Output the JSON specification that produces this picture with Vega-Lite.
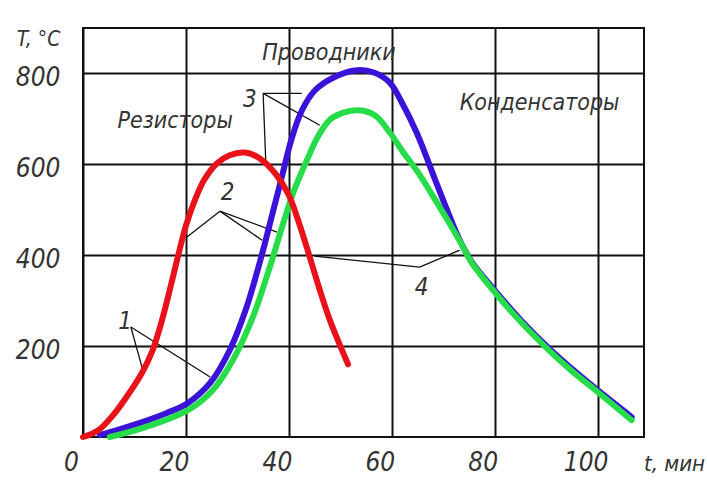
{
  "$schema": "https://vega.github.io/schema/vega-lite/v6.json",
  "width": 561,
  "height": 409,
  "autosize": {"type": "none"},
  "padding": {"left": 83, "top": 28, "right": 63, "bottom": 43},
  "background": "white",
  "config": {
    "view": {"stroke": "#111", "strokeWidth": 2},
    "font": "DejaVu Sans Condensed, Liberation Sans, sans-serif"
  },
  "datasets": {
    "curves": [
      {"series": "red", "t": 0, "T": 0}, {"series": "red", "t": 3, "T": 15}, {"series": "red", "t": 6, "T": 50},
      {"series": "red", "t": 9, "T": 97}, {"series": "red", "t": 11.5, "T": 142}, {"series": "red", "t": 13.5, "T": 190},
      {"series": "red", "t": 15.3, "T": 255}, {"series": "red", "t": 17, "T": 330}, {"series": "red", "t": 18.5, "T": 400},
      {"series": "red", "t": 20, "T": 465}, {"series": "red", "t": 21.7, "T": 520}, {"series": "red", "t": 23.5, "T": 565},
      {"series": "red", "t": 26, "T": 602}, {"series": "red", "t": 28.5, "T": 620}, {"series": "red", "t": 31.5, "T": 626},
      {"series": "red", "t": 34.5, "T": 612}, {"series": "red", "t": 37.5, "T": 578}, {"series": "red", "t": 40, "T": 532},
      {"series": "red", "t": 42, "T": 470}, {"series": "red", "t": 44, "T": 398}, {"series": "red", "t": 46, "T": 324},
      {"series": "red", "t": 48, "T": 256}, {"series": "red", "t": 50, "T": 200}, {"series": "red", "t": 51.5, "T": 160},
      {"series": "blue", "t": 3.3, "T": 4}, {"series": "blue", "t": 9.7, "T": 26}, {"series": "blue", "t": 16.3, "T": 53},
      {"series": "blue", "t": 20.4, "T": 75}, {"series": "blue", "t": 24.7, "T": 119}, {"series": "blue", "t": 28.5, "T": 191},
      {"series": "blue", "t": 31.8, "T": 286}, {"series": "blue", "t": 33.5, "T": 350}, {"series": "blue", "t": 35.2, "T": 420},
      {"series": "blue", "t": 37, "T": 500}, {"series": "blue", "t": 38.8, "T": 580}, {"series": "blue", "t": 40.5, "T": 655},
      {"series": "blue", "t": 42.5, "T": 718}, {"series": "blue", "t": 45, "T": 762}, {"series": "blue", "t": 48.5, "T": 790},
      {"series": "blue", "t": 53.2, "T": 807}, {"series": "blue", "t": 56.5, "T": 802}, {"series": "blue", "t": 59.6, "T": 780},
      {"series": "blue", "t": 62, "T": 735}, {"series": "blue", "t": 64.9, "T": 668}, {"series": "blue", "t": 68.7, "T": 558},
      {"series": "blue", "t": 71, "T": 492}, {"series": "blue", "t": 73.2, "T": 433}, {"series": "blue", "t": 75.5, "T": 386},
      {"series": "blue", "t": 79.6, "T": 328}, {"series": "blue", "t": 85, "T": 258}, {"series": "blue", "t": 90.7, "T": 193},
      {"series": "blue", "t": 95, "T": 150}, {"series": "blue", "t": 100, "T": 103}, {"series": "blue", "t": 106.6, "T": 44},
      {"series": "green", "t": 5.2, "T": 0}, {"series": "green", "t": 11.7, "T": 20}, {"series": "green", "t": 20.4, "T": 59},
      {"series": "green", "t": 25.2, "T": 103}, {"series": "green", "t": 29.1, "T": 169}, {"series": "green", "t": 33, "T": 264},
      {"series": "green", "t": 36.3, "T": 374}, {"series": "green", "t": 38.3, "T": 448}, {"series": "green", "t": 40.8, "T": 536},
      {"series": "green", "t": 43.5, "T": 609}, {"series": "green", "t": 46, "T": 668}, {"series": "green", "t": 48.5, "T": 703},
      {"series": "green", "t": 53.2, "T": 719}, {"series": "green", "t": 56.7, "T": 708}, {"series": "green", "t": 59.6, "T": 670},
      {"series": "green", "t": 62, "T": 630}, {"series": "green", "t": 65, "T": 584}, {"series": "green", "t": 68, "T": 530},
      {"series": "green", "t": 71, "T": 474}, {"series": "green", "t": 73.5, "T": 425}, {"series": "green", "t": 75.5, "T": 384},
      {"series": "green", "t": 79.6, "T": 324}, {"series": "green", "t": 85, "T": 254}, {"series": "green", "t": 90.7, "T": 189},
      {"series": "green", "t": 95, "T": 145}, {"series": "green", "t": 100, "T": 99}, {"series": "green", "t": 106.6, "T": 37}
    ],
    "leaders": [
      {"id": "1a", "o": 0, "t": 9.3, "T": 242}, {"id": "1a", "o": 1, "t": 11.5, "T": 152},
      {"id": "1b", "o": 0, "t": 9.3, "T": 242}, {"id": "1b", "o": 1, "t": 24.7, "T": 132},
      {"id": "2a", "o": 0, "t": 26.6, "T": 497}, {"id": "2a", "o": 1, "t": 20.2, "T": 440},
      {"id": "2b", "o": 0, "t": 26.6, "T": 497}, {"id": "2b", "o": 1, "t": 34.8, "T": 433},
      {"id": "2c", "o": 0, "t": 26.6, "T": 497}, {"id": "2c", "o": 1, "t": 37.7, "T": 451},
      {"id": "3a", "o": 0, "t": 35, "T": 756}, {"id": "3a", "o": 1, "t": 42.5, "T": 756},
      {"id": "3b", "o": 0, "t": 35, "T": 756}, {"id": "3b", "o": 1, "t": 35.5, "T": 609},
      {"id": "3c", "o": 0, "t": 35, "T": 756}, {"id": "3c", "o": 1, "t": 46, "T": 686},
      {"id": "4a", "o": 0, "t": 65.4, "T": 374}, {"id": "4a", "o": 1, "t": 45, "T": 398},
      {"id": "4b", "o": 0, "t": 65.4, "T": 374}, {"id": "4b", "o": 1, "t": 73.2, "T": 411}
    ],
    "words": [
      {"text": "Резисторы", "t": 17.9, "T": 695},
      {"text": "Проводники", "t": 47.8, "T": 846},
      {"text": "Конденсаторы", "t": 88.7, "T": 734}
    ],
    "numbers": [
      {"text": "1", "t": 8.2, "T": 253},
      {"text": "2", "t": 28.1, "T": 536},
      {"text": "3", "t": 32.4, "T": 741},
      {"text": "4", "t": 65.8, "T": 327}
    ]
  },
  "encoding": {
    "x": {
      "field": "t", "type": "quantitative",
      "scale": {"domain": [0, 109], "nice": false, "zero": false},
      "axis": {
        "values": [0, 20, 40, 60, 80, 100], "domain": false, "ticks": false,
        "grid": true, "gridColor": "#111", "gridWidth": 2, "gridOpacity": 1,
        "labelFontSize": 26, "labelFontStyle": "italic", "labelColor": "#333",
        "labelPadding": 12, "labelOffset": -12, "labelFlush": false,
        "title": "t, мин", "titleFontSize": 22, "titleFontStyle": "italic", "titleFontWeight": "normal",
        "titleColor": "#333", "titleX": 591, "titleY": 26, "titleAlign": "center", "titleBaseline": "middle"
      }
    },
    "y": {
      "field": "T", "type": "quantitative",
      "scale": {"domain": [0, 900], "nice": false},
      "axis": {
        "values": [200, 400, 600, 800], "domain": false, "ticks": false,
        "grid": true, "gridColor": "#111", "gridWidth": 2, "gridOpacity": 1,
        "labelFontSize": 26, "labelFontStyle": "italic", "labelColor": "#333",
        "labelPadding": 23, "labelOffset": 4,
        "title": "T, °C", "titleFontSize": 21, "titleFontStyle": "italic", "titleFontWeight": "normal",
        "titleColor": "#333", "titleAngle": 0, "titleX": -45, "titleY": 11, "titleAlign": "center", "titleBaseline": "middle"
      }
    }
  },
  "layer": [
    {
      "data": {"name": "leaders"},
      "mark": {"type": "line", "color": "#111", "strokeWidth": 1.3},
      "encoding": {"detail": {"field": "id"}, "order": {"field": "o"}}
    },
    {
      "data": {"name": "curves"},
      "transform": [{"filter": "datum.series === 'blue'"}],
      "mark": {"type": "line", "color": "#3a12d8", "strokeWidth": 6, "interpolate": "catmull-rom", "strokeCap": "round"}
    },
    {
      "data": {"name": "curves"},
      "transform": [{"filter": "datum.series === 'green'"}],
      "mark": {"type": "line", "color": "#26dc48", "strokeWidth": 6, "interpolate": "catmull-rom", "strokeCap": "round"}
    },
    {
      "data": {"name": "curves"},
      "transform": [{"filter": "datum.series === 'red'"}],
      "mark": {"type": "line", "color": "#e8121a", "strokeWidth": 6, "interpolate": "catmull-rom", "strokeCap": "round"}
    },
    {
      "data": {"name": "words"},
      "mark": {"type": "text", "fontSize": 23, "fontStyle": "italic", "color": "#333", "align": "center", "baseline": "middle"},
      "encoding": {"text": {"field": "text"}}
    },
    {
      "data": {"name": "numbers"},
      "mark": {"type": "text", "fontSize": 24, "fontStyle": "italic", "color": "#333", "align": "center", "baseline": "middle"},
      "encoding": {"text": {"field": "text"}}
    }
  ]
}
